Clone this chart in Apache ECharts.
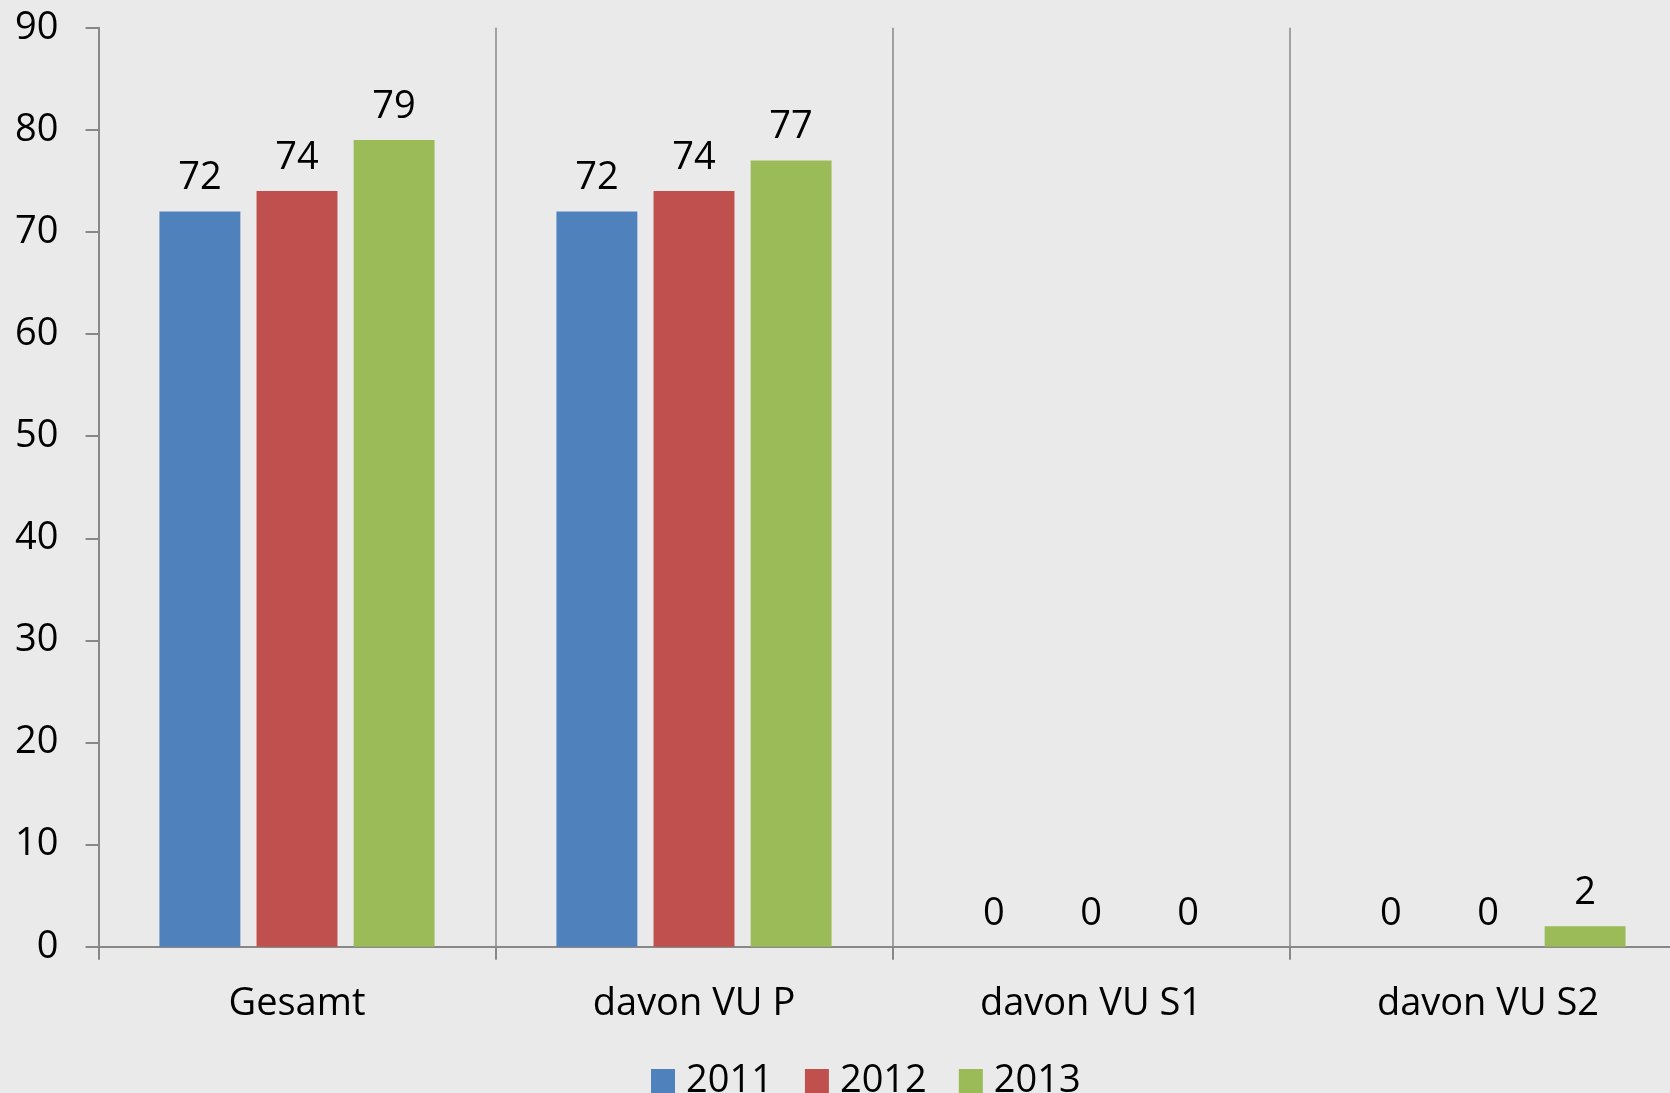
<!DOCTYPE html>
<html>
<head>
<meta charset="utf-8">
<script src="https://cdn.jsdelivr.net/npm/echarts@6/dist/echarts.min.js"></script>
<style>
html,body{margin:0;padding:0;background:#EAEAEA;}
#chart{width:1670px;height:1093px;}
</style>
</head>
<body>
<div id="chart"></div>
<script>
const categories = ['Gesamt', 'davon VU P', 'davon VU S1', 'davon VU S2'];
const seriesNames = ['2011', '2012', '2013'];
const values2011 = [72, 72, 0, 0];
const values2012 = [74, 74, 0, 0];
const values2013 = [79, 77, 0, 2];
const yTicks = [0, 10, 20, 30, 40, 50, 60, 70, 80, 90];
const colors = ['#4F81BD', '#C0504D', '#9BBB59'];

const FONT = '"Open Sans", "Liberation Sans", sans-serif';
const FS = 38;
const chart = echarts.init(document.getElementById('chart'), null, {renderer: 'canvas'});
const allValues = [values2011, values2012, values2013];

chart.setOption({
  backgroundColor: '#EAEAEA',
  animation: false,
  textStyle: {fontFamily: FONT},
  grid: {left: 98.5, width: 1588, top: 27.7, bottom: 146.3, containLabel: false, outerBoundsMode: 'none'},
  legend: {
    data: seriesNames,
    left: 646,
    top: 1057,
    itemWidth: 24,
    itemHeight: 24,
    itemGap: 32,
    icon: 'rect',
    textStyle: {fontSize: FS, color: '#000', fontFamily: FONT, lineHeight: 38, padding: [0, 0, 0, 6]}
  },
  xAxis: {
    type: 'category',
    data: categories,
    axisLine: {lineStyle: {color: '#888', width: 2}},
    axisTick: {show: true, length: 13, lineStyle: {color: '#888', width: 2}},
    splitLine: {show: true, lineStyle: {color: '#888', width: 1.5}},
    axisLabel: {fontSize: FS, color: '#000', margin: 38, fontFamily: FONT}
  },
  yAxis: {
    type: 'value',
    min: yTicks[0],
    max: yTicks[yTicks.length - 1],
    interval: 10,
    axisLine: {show: true, lineStyle: {color: '#888', width: 2}},
    axisTick: {show: true, length: 13, lineStyle: {color: '#888', width: 2}},
    splitLine: {show: false},
    axisLabel: {fontSize: FS, color: '#000', margin: 40, fontFamily: FONT}
  },
  series: seriesNames.map((name, i) => ({
    name: name,
    type: 'bar',
    data: allValues[i],
    barGap: '20%',
    barCategoryGap: '30.7%',
    itemStyle: {color: colors[i]},
    label: {show: true, position: 'top', distance: 14, fontSize: FS, color: '#000', fontFamily: FONT}
  }))
});
</script>
</body>
</html>
